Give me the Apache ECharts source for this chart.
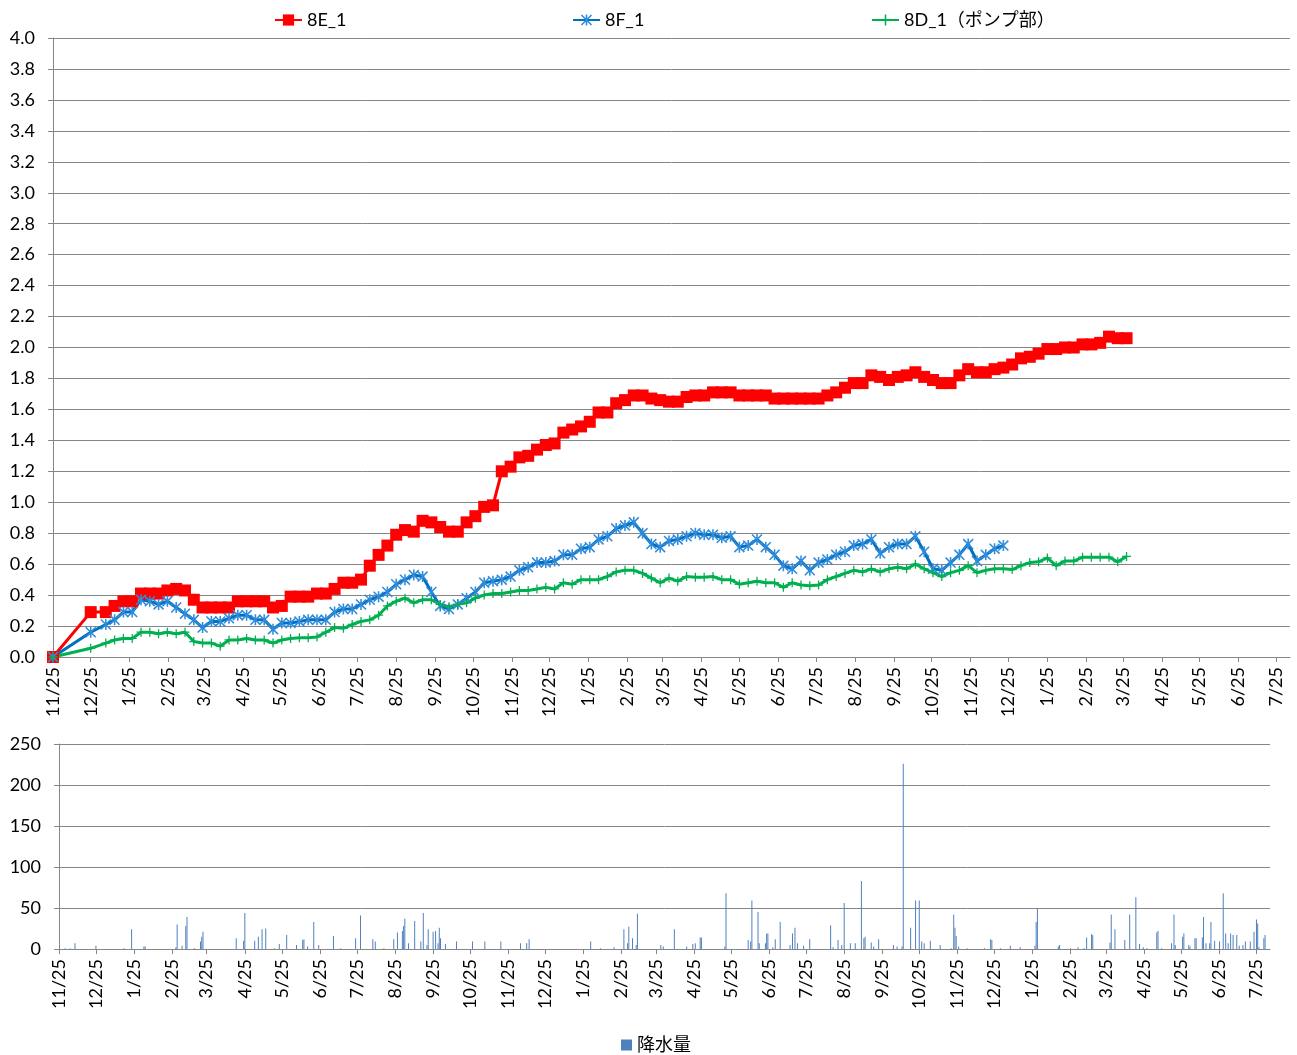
<!DOCTYPE html>
<html><head><meta charset="utf-8">
<script src="https://cdn.jsdelivr.net/npm/echarts@6/dist/echarts.min.js"></script>
<style>html,body{margin:0;padding:0;background:#fff}#c{width:1297px;height:1055px}</style>
</head><body><div id="c"></div>
<script>
// ---- data ----
const surveyDates = [
"2013-11-25","2013-12-25",
"2014-01-06","2014-01-13","2014-01-20","2014-01-27",
"2014-02-03","2014-02-10","2014-02-17","2014-02-24",
"2014-03-03","2014-03-10","2014-03-17","2014-03-24","2014-03-31",
"2014-04-07","2014-04-14","2014-04-21","2014-04-28",
"2014-05-05","2014-05-12","2014-05-19","2014-05-26",
"2014-06-02","2014-06-09","2014-06-16","2014-06-23","2014-06-30",
"2014-07-07","2014-07-14","2014-07-21","2014-07-28",
"2014-08-04","2014-08-11","2014-08-18","2014-08-25",
"2014-09-01","2014-09-08","2014-09-15","2014-09-22","2014-09-29",
"2014-10-06","2014-10-13","2014-10-20","2014-10-27",
"2014-11-03","2014-11-10","2014-11-17","2014-11-24",
"2014-12-01","2014-12-08","2014-12-15","2014-12-22","2014-12-29",
"2015-01-05","2015-01-12","2015-01-19","2015-01-26",
"2015-02-02","2015-02-09","2015-02-16","2015-02-23",
"2015-03-02","2015-03-09","2015-03-16","2015-03-23","2015-03-30",
"2015-04-06","2015-04-13","2015-04-20","2015-04-27",
"2015-05-04","2015-05-11","2015-05-18","2015-05-25",
"2015-06-01","2015-06-08","2015-06-15","2015-06-22","2015-06-29",
"2015-07-06","2015-07-13","2015-07-20","2015-07-27",
"2015-08-03","2015-08-10","2015-08-17","2015-08-24","2015-08-31",
"2015-09-07","2015-09-14","2015-09-21","2015-09-28",
"2015-10-05","2015-10-12","2015-10-19","2015-10-26",
"2015-11-02","2015-11-09","2015-11-16","2015-11-23","2015-11-30",
"2015-12-07","2015-12-14","2015-12-21","2015-12-28",
"2016-01-04","2016-01-11","2016-01-18","2016-01-25",
"2016-02-01","2016-02-08","2016-02-15","2016-02-22","2016-02-29",
"2016-03-07","2016-03-14","2016-03-21","2016-03-28"
];
const s8E = [0,0.29,
0.29,0.33,0.36,0.36,0.41,0.41,0.41,0.43,0.44,0.43,
0.37,0.32,0.32,0.32,0.32,0.36,0.36,0.36,0.36,0.32,
0.33,0.39,0.39,0.39,0.41,0.41,0.44,0.48,0.48,0.50,
0.59,0.66,0.72,0.79,0.82,0.81,0.88,0.87,0.84,0.81,
0.81,0.87,0.91,0.97,0.98,1.20,1.23,1.29,1.30,1.34,
1.37,1.38,1.45,1.47,1.49,1.52,1.58,1.58,1.64,1.66,
1.69,1.69,1.67,1.66,1.65,1.65,1.68,1.69,1.69,1.71,
1.71,1.71,1.69,1.69,1.69,1.69,1.67,1.67,1.67,1.67,
1.67,1.67,1.69,1.71,1.74,1.77,1.77,1.82,1.81,1.79,
1.81,1.82,1.84,1.81,1.79,1.77,1.77,1.82,1.86,1.84,
1.84,1.86,1.87,1.89,1.93,1.94,1.96,1.99,1.99,2.00,
2.00,2.02,2.02,2.03,2.07,2.06,2.06];
const s8F = [0,0.16,
0.21,0.24,0.29,0.29,0.37,0.36,0.34,0.36,0.32,0.28,
0.24,0.19,0.23,0.23,0.25,0.27,0.27,0.24,0.24,0.18,
0.22,0.22,0.23,0.24,0.24,0.24,0.29,0.31,0.31,0.34,
0.37,0.39,0.42,0.47,0.50,0.53,0.52,0.42,0.33,0.31,
0.34,0.38,0.42,0.48,0.49,0.50,0.52,0.56,0.58,0.61,
0.61,0.62,0.66,0.66,0.70,0.71,0.76,0.78,0.83,0.85,
0.87,0.80,0.73,0.71,0.75,0.76,0.78,0.80,0.79,0.79,
0.77,0.78,0.71,0.72,0.76,0.71,0.66,0.59,0.57,0.62,
0.56,0.61,0.63,0.66,0.68,0.72,0.73,0.76,0.67,0.71,
0.73,0.73,0.78,0.68,0.57,0.56,0.61,0.66,0.73,0.62,
0.66,0.70,0.72,null,null,null,null,null,null,null,
null,null,null,null,null,null,null];
const s8D = [0,0.056,
0.09,0.11,0.12,0.12,0.16,0.16,0.15,0.16,0.15,0.16,
0.10,0.09,0.09,0.07,0.11,0.11,0.12,0.11,0.11,0.09,
0.11,0.12,0.125,0.125,0.13,0.16,0.19,0.185,0.21,0.23,
0.24,0.27,0.33,0.36,0.38,0.35,0.37,0.37,0.34,0.325,
0.34,0.35,0.38,0.40,0.41,0.41,0.42,0.43,0.43,0.44,
0.45,0.44,0.48,0.47,0.50,0.50,0.50,0.52,0.55,0.56,
0.56,0.54,0.51,0.48,0.51,0.49,0.52,0.515,0.515,0.52,
0.50,0.50,0.47,0.48,0.49,0.48,0.48,0.45,0.48,0.465,
0.46,0.465,0.50,0.52,0.54,0.56,0.55,0.57,0.55,0.57,
0.58,0.57,0.60,0.57,0.545,0.52,0.545,0.56,0.59,0.545,
0.56,0.57,0.57,0.565,0.59,0.61,0.615,0.64,0.59,0.62,
0.62,0.645,0.645,0.645,0.645,0.615,0.65];

const rainDates = [
"2013-11-30","2013-12-04","2013-12-08","2013-12-25",
"2014-01-17","2014-01-23","2014-02-02","2014-02-03","2014-02-28","2014-03-01","2014-03-05","2014-03-08","2014-03-09","2014-03-15","2014-03-20","2014-03-21","2014-03-22",
"2014-04-18","2014-04-24","2014-04-25","2014-05-03","2014-05-06","2014-05-09","2014-05-12","2014-05-19","2014-05-23","2014-05-29",
"2014-06-06","2014-06-11","2014-06-12","2014-06-15","2014-06-20","2014-06-24","2014-07-06","2014-07-12","2014-07-24","2014-07-28",
"2014-08-07","2014-08-09","2014-08-16","2014-08-24","2014-08-27","2014-08-31","2014-09-01","2014-09-02","2014-09-05","2014-09-10","2014-09-15","2014-09-17","2014-09-20","2014-09-21","2014-09-25","2014-09-27","2014-09-29","2014-09-30",
"2014-10-01","2014-10-05","2014-10-14","2014-10-27","2014-11-06","2014-11-19","2014-12-05","2014-12-10","2014-12-12",
"2015-01-31","2015-02-08","2015-02-19","2015-02-27","2015-03-02","2015-03-03","2015-03-06","2015-03-09","2015-03-10","2015-03-29","2015-03-31",
"2015-04-09","2015-04-19","2015-04-24","2015-04-26","2015-04-30","2015-05-01","2015-05-20","2015-05-21",
"2015-06-08","2015-06-10","2015-06-11","2015-06-16","2015-06-17","2015-06-22","2015-06-23","2015-06-24","2015-06-28","2015-06-30",
"2015-07-04","2015-07-12","2015-07-14","2015-07-16","2015-07-18","2015-07-23","2015-07-28",
"2015-08-14","2015-08-16","2015-08-20","2015-08-23","2015-08-25","2015-08-30","2015-09-03","2015-09-08","2015-09-10","2015-09-11","2015-09-16","2015-09-18","2015-09-22",
"2015-10-04","2015-10-07","2015-10-11","2015-10-12","2015-10-18","2015-10-22","2015-10-25","2015-10-27","2015-10-29",
"2015-11-03","2015-11-11","2015-11-20","2015-11-22","2015-11-23","2015-11-24","2015-11-26","2015-12-03","2015-12-17","2015-12-22","2015-12-23","2015-12-30",
"2016-01-07","2016-01-15","2016-01-27","2016-01-28","2016-01-29","2016-02-15","2016-02-16","2016-02-25","2016-03-02","2016-03-07","2016-03-09","2016-03-13","2016-03-14","2016-03-28","2016-03-29",
"2016-04-01","2016-04-09","2016-04-13","2016-04-18","2016-04-21","2016-04-24","2016-04-27",
"2016-05-05","2016-05-06","2016-05-09","2016-05-17","2016-05-19","2016-05-20","2016-05-26","2016-05-27","2016-05-31",
"2016-06-01","2016-06-05","2016-06-06","2016-06-11","2016-06-12","2016-06-14","2016-06-17","2016-06-18","2016-06-21","2016-06-25","2016-06-28","2016-06-30",
"2016-07-02","2016-07-04","2016-07-06","2016-07-09","2016-07-11","2016-07-14","2016-07-16","2016-07-20","2016-07-23","2016-07-25","2016-07-26","2016-07-27","2016-07-31","2016-08-01"
];
const rainValues = [
1,1,7,4,
1,24,3,3,2,30,4,28,39,1,9,15,21,
13,10,44,10,15,24,25,1,6,17,
5,11,12,3,33,5,16,1,13,41,
12,9,1,12,20,22,28,37,7,34,9,44,5,24,21,22,7,26,
13,6,9,9,9,9,7,7,12,
9,1,2,24,7,27,13,5,43,5,3,
24,3,6,7,14,14,3,68,
11,9,59,45,7,7,19,19,2,12,
33,5,19,26,7,4,12,
29,2,11,5,56,7,7,83,13,15,8,3,12,
5,3,3,226,26,59,59,9,7,
10,5,1,42,26,16,3,1,1,12,11,1,
4,2,4,33,49,3,5,1,2,1,14,18,17,8,42,
24,11,42,63,6,2,1,
20,22,1,7,42,5,15,19,5,
3,13,13,14,39,7,7,33,10,9,68,19,
7,19,17,17,4,5,9,9,21,36,31,2,13,17
];

const tickDates = [
"2013-11-25","2013-12-25","2014-01-25","2014-02-25","2014-03-25","2014-04-25","2014-05-25","2014-06-25","2014-07-25","2014-08-25","2014-09-25","2014-10-25",
"2014-11-25","2014-12-25","2015-01-25","2015-02-25","2015-03-25","2015-04-25","2015-05-25","2015-06-25","2015-07-25","2015-08-25","2015-09-25","2015-10-25",
"2015-11-25","2015-12-25","2016-01-25","2016-02-25","2016-03-25","2016-04-25","2016-05-25","2016-06-25","2016-07-25"
];
const axisMinDate = "2013-11-25";
const axisMaxDate = "2016-08-05";
const seriesNames = ["8E_1","8F_1","8D_1（ポンプ部）","降水量"];

// ---- chart ----
function parseDate(s){const p=s.split('-').map(Number);return new Date(p[0],p[1]-1,p[2]).getTime();}
const FONT = 'Lato, "Noto Sans CJK JP", sans-serif';
const FS = 18;
const GRAY = '#868686';
const tickTs = tickDates.map(parseDate);
const fmtTick = v => {const d=new Date(v);return (d.getMonth()+1)+'/'+d.getDate();};

function xAxisCfg(gi){
  return {
    type:'value', gridIndex:gi, min:parseDate(axisMinDate), max:parseDate(axisMaxDate),
    axisLine:{show:true,onZero:false,lineStyle:{color:GRAY,width:1}},
    axisTick:{show:true,customValues:tickTs,length:5,lineStyle:{color:GRAY}},
    axisLabel:{customValues:tickTs,rotate:90,formatter:fmtTick,fontSize:FS,color:'#000',fontFamily:FONT,margin:10,hideOverlap:false,showMinLabel:true,showMaxLabel:true},
    splitLine:{show:false}
  };
}
const asterisk = 'path://M0,1L1,0L10,9L9,10Z M9,0L10,1L1,10L0,9Z M4.3,0L5.7,0L5.7,10L4.3,10Z';
const plus = 'path://M4.3,0L5.7,0L5.7,4.3L10,4.3L10,5.7L5.7,5.7L5.7,10L4.3,10L4.3,5.7L0,5.7L0,4.3L4.3,4.3Z';

const toPts = arr => surveyDates.map((d,i)=>[parseDate(d), arr[i]]);
const legText = {fontSize:FS,color:'#000',fontFamily:FONT};

const option = {
  animation:false,
  backgroundColor:'#fff',
  textStyle:{fontFamily:FONT,color:'#000'},
  grid:[
    {left:53, top:38, width:1237, height:619},
    {left:59, top:744, width:1211, height:205}
  ],
  legend:[
    {data:[seriesNames[0]],left:269,top:6,itemWidth:27,itemHeight:14,textStyle:legText},
    {data:[seriesNames[1]],left:567,top:6,itemWidth:27,itemHeight:14,textStyle:legText},
    {data:[seriesNames[2]],left:866,top:6,itemWidth:27,itemHeight:14,textStyle:legText},
    {data:[seriesNames[3]],left:616,top:1031,icon:'rect',itemWidth:11,itemHeight:11,textStyle:legText}
  ],
  xAxis:[xAxisCfg(0),xAxisCfg(1)],
  yAxis:[
    {type:'value',gridIndex:0,min:0,max:4,interval:0.2,
     axisLine:{show:true,lineStyle:{color:GRAY}},
     axisTick:{show:true,length:5,lineStyle:{color:GRAY}},
     axisLabel:{formatter:v=>v.toFixed(1),fontSize:FS,color:'#000',fontFamily:FONT,margin:18},
     splitLine:{show:true,lineStyle:{color:GRAY,width:1}}},
    {type:'value',gridIndex:1,min:0,max:250,interval:50,
     axisLine:{show:true,lineStyle:{color:GRAY}},
     axisTick:{show:true,length:5,lineStyle:{color:GRAY}},
     axisLabel:{fontSize:FS,color:'#000',fontFamily:FONT,margin:18},
     splitLine:{show:true,lineStyle:{color:GRAY,width:1}}}
  ],
  series:[
    {name:seriesNames[0],type:'line',xAxisIndex:0,yAxisIndex:0,data:toPts(s8E),
     symbol:'rect',symbolSize:12,showSymbol:true,showAllSymbol:true,
     lineStyle:{color:'#FF0000',width:3},itemStyle:{color:'#FF0000'}},
    {name:seriesNames[1],type:'line',xAxisIndex:0,yAxisIndex:0,data:toPts(s8F),
     symbol:asterisk,symbolSize:11,showSymbol:true,showAllSymbol:true,connectNulls:false,
     lineStyle:{color:'#0070C0',width:3},itemStyle:{color:'#2F8BDB'}},
    {name:seriesNames[2],type:'line',xAxisIndex:0,yAxisIndex:0,data:toPts(s8D),
     symbol:plus,symbolSize:9,showSymbol:true,showAllSymbol:true,
     lineStyle:{color:'#00B050',width:3},itemStyle:{color:'#00B050'}},
    {name:seriesNames[3],type:'bar',xAxisIndex:1,yAxisIndex:1,
     data:rainDates.map((d,i)=>[parseDate(d),rainValues[i]]),
     barWidth:1,itemStyle:{color:'#4F81BD'}}
  ]
};
const chart = echarts.init(document.getElementById('c'),null,{renderer:'canvas'});
chart.setOption(option);
</script>
</body></html>
